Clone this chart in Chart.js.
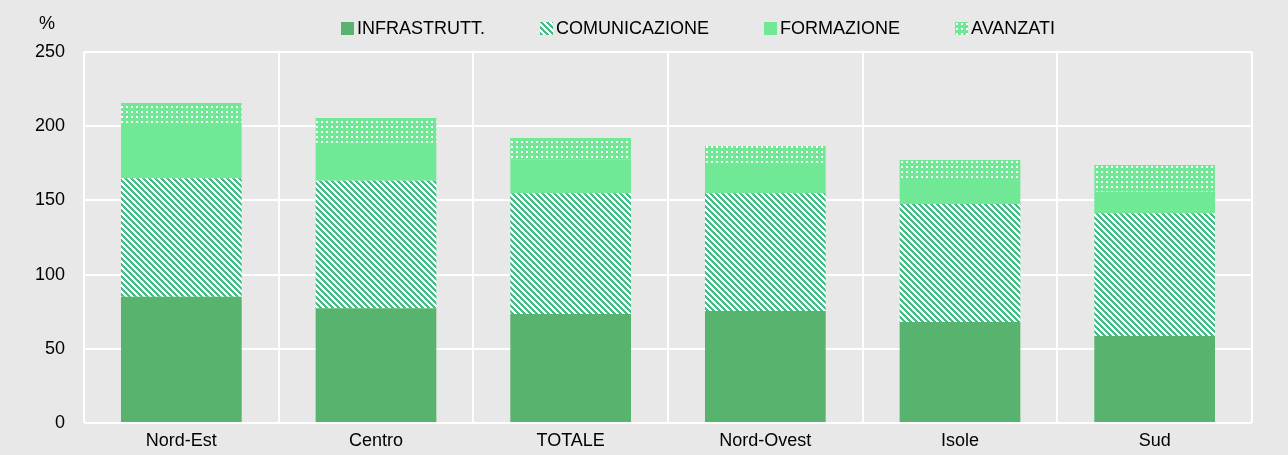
<!DOCTYPE html>
<html>
<head>
<meta charset="utf-8">
<script src="https://cdn.jsdelivr.net/npm/chart.js@4"></script>
<style>
  html, body { margin: 0; padding: 0; background: #e8e8e8; }
  #wrap { position: relative; width: 1288px; height: 455px; }
  #legend {
    position: absolute; left: 341px; top: 18px;
    display: flex; align-items: center; gap: 55px;
    font: 18px "Liberation Sans", Arial, sans-serif;
    color: #000; white-space: nowrap;
  }
  #legend .item { display: flex; align-items: center; }
  #legend canvas { width: 13px; height: 13px; margin-right: 3px; display: block; }
</style>
</head>
<body>
<div id="wrap">
  <canvas id="chart"></canvas>
  <div id="legend"></div>
</div>
<script>
const regions = ['Nord-Est', 'Centro', 'TOTALE', 'Nord-Ovest', 'Isole', 'Sud'];
const infrastrutt = [85.1, 77.3, 73.4, 75.5, 68.1, 58.6];
const comunicazione = [79.8, 86.0, 81.4, 79.3, 79.5, 82.7];
const formazione = [37.5, 25.6, 22.9, 20.6, 16.1, 14.6];
const avanzati = [13.2, 16.6, 14.3, 11.3, 13.5, 18.0];
const yTicks = [0, 50, 100, 150, 200, 250];

const FONT = '"Liberation Sans", Arial, sans-serif';

const makePattern = (size, draw) => {
  const c = document.createElement('canvas');
  c.width = size; c.height = size;
  draw(c.getContext('2d'));
  return c.getContext('2d').createPattern(c, 'repeat');
}

// diagonal stripes, top-left to bottom-right
const stripes = makePattern(6, g => {
  g.fillStyle = '#ffffff';
  g.fillRect(0, 0, 6, 6);
  g.fillStyle = '#45bd86';
  for (let y = 0; y < 6; y++) {
    for (let x = 0; x < 6; x++) {
      if (((x - y) % 6 + 6) % 6 < 3) g.fillRect(x, y, 1, 1);
    }
  }
});

// light green with small white dots
const dots = makePattern(5, g => {
  g.fillStyle = '#70e895';
  g.fillRect(0, 0, 5, 5);
  g.fillStyle = '#ffffff';
  g.fillRect(1, 1, 2, 2);
});

const bgPlugin = {
  id: 'bg',
  beforeDraw: (chart) => {
    const ctx = chart.ctx;
    ctx.save();
    ctx.fillStyle = '#e8e8e8';
    ctx.fillRect(0, 0, chart.width, chart.height);
    ctx.restore();
  },
  afterDraw: (chart) => {
    const ctx = chart.ctx;
    ctx.save();
    ctx.fillStyle = '#000';
    ctx.font = '18px ' + FONT;
    ctx.textAlign = 'center';
    ctx.textBaseline = 'middle';
    ctx.fillText('%', 47, 24);
    ctx.restore();
  }
};

const ctx = document.querySelector('#chart').getContext('2d');

const chart = new Chart(ctx, {
  type: 'bar',
  data: {
    labels: regions,
    datasets: [
      { label: 'INFRASTRUTT.', data: infrastrutt, backgroundColor: '#57b36e' },
      { label: 'COMUNICAZIONE', data: comunicazione, backgroundColor: stripes },
      { label: 'FORMAZIONE', data: formazione, backgroundColor: '#70e895' },
      { label: 'AVANZATI', data: avanzati, backgroundColor: dots }
    ]
  },
  options: {
    responsive: true,
    maintainAspectRatio: false,
    animation: false,
    layout: { padding: { left: 0, right: 36, top: 52, bottom: 0 } },
    datasets: { bar: { categoryPercentage: 1, barPercentage: 0.62 } },
    plugins: {
      legend: { display: false },
      tooltip: { enabled: false }
    },
    scales: {
      x: {
        stacked: true,
        grid: { color: '#ffffff', lineWidth: 2, offset: true, drawTicks: false },
        border: { display: false },
        ticks: {
          color: '#000',
          padding: 7,
          font: { family: FONT, size: 18 }
        },
        afterFit: (scale) => { scale.height = 32; }
      },
      y: {
        stacked: true,
        min: 0,
        max: 250,
        grid: { color: '#ffffff', lineWidth: 2, drawTicks: false },
        border: { display: false },
        afterBuildTicks: (scale) => { scale.ticks = yTicks.map(v => ({ value: v })); },
        ticks: {
          color: '#000',
          padding: 19,
          font: { family: FONT, size: 18 }
        },
        afterFit: (scale) => { scale.width = 84; }
      }
    }
  },
  plugins: [bgPlugin]
});

// legend built from the chart's datasets
const legendEl = document.querySelector('#legend');
chart.data.datasets.forEach(ds => {
  const item = document.createElement('div');
  item.className = 'item';
  const box = document.createElement('canvas');
  box.width = 13; box.height = 13;
  const g = box.getContext('2d');
  g.fillStyle = ds.backgroundColor;
  g.fillRect(0, 0, 13, 13);
  const label = document.createElement('span');
  label.textContent = ds.label;
  item.appendChild(box);
  item.appendChild(label);
  legendEl.appendChild(item);
});
</script>
</body>
</html>
